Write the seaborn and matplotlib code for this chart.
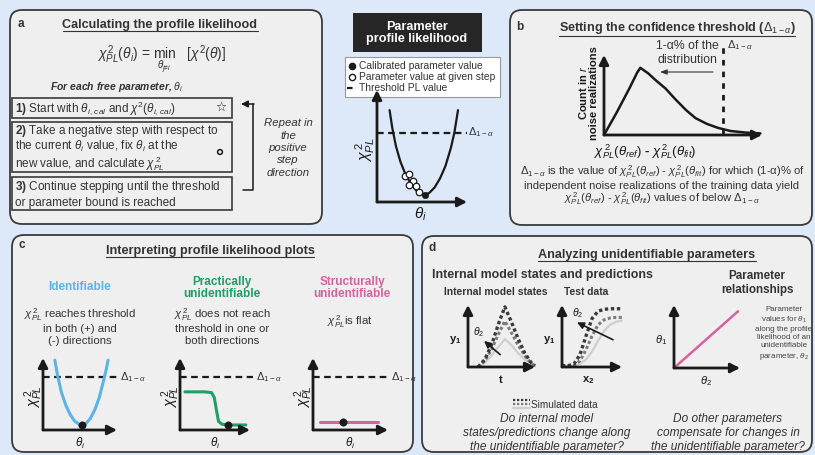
import numpy as np
import pandas as pd
import seaborn as sns
import matplotlib.pyplot as plt
from matplotlib.patches import FancyBboxPatch, Rectangle, Circle

sns.set_style("white")
plt.rcParams['font.family'] = ['Liberation Sans', 'DejaVu Sans']
plt.rcParams['mathtext.fontset'] = 'custom'
plt.rcParams['mathtext.rm'] = 'Liberation Sans'
plt.rcParams['mathtext.it'] = 'Liberation Sans:italic'
plt.rcParams['mathtext.bf'] = 'Liberation Sans:bold'

W, H = 815, 455
BG = '#dde9f8'
PANEL = '#efefef'
INK = '#1a1a1a'
TXT = '#333333'
BLUE, GREEN, PINK = '#5cb3e4', '#1f9e68', '#d6639e'

# ---- data (axes scaled 0..1) ----
# centre: parameter profile likelihood
pl_theta = [0.14, 0.17, 0.21, 0.26, 0.32, 0.38, 0.44, 0.50, 0.53, 0.58, 0.64, 0.70, 0.76, 0.82, 0.86, 0.90]
pl_chi = [0.82, 0.66, 0.50, 0.36, 0.24, 0.16, 0.10, 0.07, 0.06, 0.08, 0.13, 0.21, 0.32, 0.48, 0.62, 0.82]
pl_cal_theta, pl_cal_chi = [0.53], [0.06]
pl_step_theta = [0.31, 0.36, 0.40, 0.36, 0.43, 0.47]
pl_step_chi = [0.23, 0.25, 0.19, 0.15, 0.14, 0.09]
pl_threshold = 0.62

# b: distribution of chi2 differences
dist_x = [0.0, 0.08, 0.16, 0.21, 0.23, 0.28, 0.33, 0.39, 0.45, 0.52, 0.58, 0.65, 0.72, 0.80, 0.90, 0.99]
dist_y = [0.0, 0.28, 0.58, 0.78, 0.84, 0.77, 0.68, 0.58, 0.45, 0.31, 0.21, 0.14, 0.09, 0.05, 0.03, 0.02]
dist_cut = 0.75

# c: three kinds of profile
c_threshold = 0.74
ident_theta = [0.16, 0.20, 0.25, 0.31, 0.37, 0.43, 0.49, 0.53, 0.58, 0.64, 0.70, 0.76, 0.81, 0.85, 0.88]
ident_chi = [0.97, 0.74, 0.52, 0.34, 0.21, 0.12, 0.08, 0.07, 0.09, 0.16, 0.28, 0.45, 0.65, 0.82, 0.97]
ident_best = ([0.53], [0.07])
prac_theta = [0.07, 0.20, 0.35, 0.45, 0.49, 0.52, 0.55, 0.60, 0.70, 0.85, 0.94]
prac_chi = [0.53, 0.53, 0.53, 0.52, 0.45, 0.28, 0.12, 0.08, 0.07, 0.07, 0.07]
prac_best = ([0.69], [0.07])
struct_theta = [0.09, 0.87]
struct_chi = [0.11, 0.11]
struct_best = ([0.40], [0.11])

# d: internal states / test data / parameter relationship
states_t = [0.15, 0.25, 0.35, 0.45, 0.55, 0.65, 0.75, 0.85, 0.95, 1.0]
states_dark = [0.0, 0.12, 0.35, 0.68, 0.97, 0.72, 0.45, 0.22, 0.06, 0.02]
states_mid = [0.0, 0.10, 0.28, 0.52, 0.74, 0.55, 0.35, 0.18, 0.05, 0.02]
states_light = [0.0, 0.07, 0.18, 0.32, 0.45, 0.35, 0.22, 0.12, 0.04, 0.01]
test_x = [0.0, 0.1, 0.2, 0.3, 0.4, 0.5, 0.6, 0.7, 0.8, 0.9, 1.0]
test_dark = [0.02, 0.02, 0.05, 0.20, 0.50, 0.78, 0.90, 0.93, 0.94, 0.94, 0.94]
test_mid = [0.02, 0.02, 0.03, 0.10, 0.28, 0.50, 0.68, 0.76, 0.79, 0.80, 0.80]
test_light = [0.01, 0.01, 0.02, 0.05, 0.12, 0.25, 0.42, 0.58, 0.68, 0.73, 0.75]
rel_theta2 = [0.0, 0.97]
rel_theta1 = [0.0, 0.90]

fig = plt.figure(figsize=(W / 100, H / 100), dpi=100, facecolor=BG)
base = fig.add_axes([0, 0, 1, 1])
base.set_xlim(0, W)
base.set_ylim(H, 0)
base.axis('off')

titles = []


def panel(x0, y0, x1, y1):
    base.add_patch(FancyBboxPatch((x0, y0), x1 - x0, y1 - y0,
                                  boxstyle='round,pad=0,rounding_size=12',
                                  fc=PANEL, ec='#3a3a3a', lw=1.3))


def txt(x, y, s, size=7.2, **kw):
    kw.setdefault('ha', 'center')
    kw.setdefault('va', 'center')
    kw.setdefault('color', TXT)
    return base.text(x, y, s, fontsize=size, **kw)


def title(x, y, s):
    titles.append(txt(x, y, s, 9.1, fontweight='bold'))


def inset(x0, y0, w, h):
    # (x0, y0) = axis origin in pixels, w/h = arrow lengths
    ax = fig.add_axes([x0 / W, 1 - y0 / H, w / W, h / H])
    ax.set_xlim(0, 1)
    ax.set_ylim(0, 1)
    ax.axis('off')
    for tip in [(1, 0), (0, 1)]:
        an = ax.annotate('', xy=tip, xytext=(0, 0), xycoords='axes fraction',
                         arrowprops=dict(arrowstyle='-|>,head_length=0.55,head_width=0.28',
                                         lw=2, color=INK, shrinkA=0, shrinkB=0),
                         annotation_clip=False)
        an.arrow_patch.set_clip_on(False)
    return ax


DELTA = r'$\Delta_{1-\alpha}$'
CHI = r'$\chi_{PL}^{\,2}$'
DIFF = r'$\chi_{PL}^{\,2}(\theta_{ref})$ - $\chi_{PL}^{\,2}(\theta_{fit})$'

# ---------------- panel a ----------------
panel(10, 10, 322, 224)
txt(21, 24, 'a', 8.5, fontweight='bold')
title(160, 25, 'Calculating the profile likelihood')
txt(162, 60, r'$\chi_{PL}^{\,2}(\theta_i)$ = $\min_{\theta_{j\neq i}}$   $[\chi^2(\theta)]$', 10, va='baseline')
txt(50, 87, r'For each free parameter, $\theta_i$', 7.5, ha='left', fontweight='bold', style='italic')
for y0, y1 in [(98, 118), (122, 172), (177, 210)]:
    base.add_patch(Rectangle((12, y0), 220, y1 - y0, fc=PANEL, ec='#3a3a3a', lw=1.2))
txt(15, 108, r'$\mathbf{1)}$ Start with $\theta_{i,\,cal}$ and $\chi^2(\theta_{i,\,cal})$', 8.5, ha='left')
txt(221, 107, '\u2606', 9, family='DejaVu Sans', color=INK)
txt(15, 148, r'$\mathbf{2)}$ Take a negative step with respect to' + '\n'
    + r'the current $\theta_i$ value, fix $\theta_i$ at the' + '\n'
    + r'new value, and calculate $\chi_{PL}^{\,2}$', 8.5, ha='left', linespacing=1.0)
base.add_patch(Circle((220, 152), 2.4, fc='none', ec=INK, lw=1.1))
txt(15, 194, r'$\mathbf{3)}$ Continue stepping until the threshold' + '\n'
    + 'or parameter bound is reached', 8.5, ha='left', linespacing=1.15)
base.plot([253, 253, 243], [104, 190, 190], color=INK, lw=1.1)
base.annotate('', xy=(241, 104), xytext=(254, 104),
              arrowprops=dict(arrowstyle='-|>,head_length=0.4,head_width=0.2', lw=1.1, color=INK,
                              shrinkA=0, shrinkB=0))
txt(288, 148, 'Repeat in\nthe\npositive\nstep\ndirection', 8.2, style='italic', linespacing=1.3)

# ---------------- centre ----------------
base.add_patch(Rectangle((353, 13), 129, 39, fc='#262626', ec='none'))
txt(417, 33, 'Parameter\nprofile likelihood', 9.1, color='white', fontweight='bold', linespacing=1.1)
base.add_patch(Rectangle((345, 57), 155, 40, fc='white', ec='#999999', lw=0.8))
leg_items = [('full', 'Calibrated parameter value'),
             ('open', 'Parameter value at given step'),
             ('dash', 'Threshold PL value')]
for i, (kind, lab) in enumerate(leg_items):
    yy = 66 + 11 * i
    if kind == 'dash':
        base.plot([347, 356], [yy, yy], ls=(0, (2.5, 1.5)), color=INK, lw=1.6)
    else:
        base.plot([352], [yy], marker='o', ls='', mfc=INK if kind == 'full' else 'white',
                  mec=INK, ms=4.5, mew=1)
    txt(359, yy, lab, 7.4, ha='left')

ax = inset(377, 202, 90, 112)
ax.axhline(pl_threshold, 0, 1, color=INK, lw=1.6, ls=(0, (3, 2)), clip_on=False)
sns.lineplot(x=pl_theta, y=pl_chi, ax=ax, color=INK, lw=1.6, sort=False, clip_on=False)
sns.scatterplot(x=pl_step_theta, y=pl_step_chi, ax=ax, s=22, facecolor='white', edgecolor=INK,
                linewidth=0.9, zorder=5, clip_on=False)
sns.scatterplot(x=pl_cal_theta, y=pl_cal_chi, ax=ax, s=22, color=INK, edgecolor=INK, zorder=6, clip_on=False)
txt(365, 150, CHI, 11.5, rotation=90, color=INK)
txt(420, 214, r'$\theta_i$', 11, color=INK)
txt(468, 132, DELTA, 8, ha='left')

# ---------------- panel b ----------------
panel(510, 10, 812, 225)
txt(520, 27, 'b', 8.5, fontweight='bold')
title(677, 28, r'Setting the confidence threshold ($\Delta_{1-\alpha}$)')
ax = inset(604, 135, 158, 80)
sns.lineplot(x=dist_x, y=dist_y, ax=ax, color=INK, lw=1.8, sort=False, clip_on=False)
ax.vlines(dist_cut, 0, 1.12, color=INK, lw=2, ls=(0, (2, 2.2)), clip_on=False)
txt(588, 93, r'Count in $r$' + '\nnoise realizations', 8, rotation=90, fontweight='bold',
    linespacing=1.0, color=INK)
txt(645, 152, DIFF, 9.5, fontweight='bold', color=INK)
txt(687, 53, '1-\u03b1% of the\ndistribution', 8.8, linespacing=1.2)
base.annotate('', xy=(660, 72), xytext=(713, 72),
              arrowprops=dict(arrowstyle='-|>,head_length=0.4,head_width=0.15', lw=0.8, color=TXT,
                              shrinkA=0, shrinkB=0))
txt(727, 45, DELTA, 8, ha='left')
txt(662, 172, DELTA + ' is the value of ' + DIFF + ' for which (1-\u03b1)% of', 8.1)
txt(662, 186, 'independent noise realizations of the training data yield', 8.1)
txt(662, 199, DIFF + ' values of below ' + DELTA, 8.1)

# ---------------- panel c ----------------
panel(12, 235, 413, 452)
txt(22, 245, 'c', 8.5, fontweight='bold')
title(210, 251, 'Interpreting profile likelihood plots')
txt(80, 287, 'Identifiable', 8.5, color=BLUE, fontweight='bold')
txt(222, 288, 'Practically\nunidentifiable', 8.5, color=GREEN, fontweight='bold', linespacing=1.1)
txt(352, 288, 'Structurally\nunidentifiable', 8.5, color=PINK, fontweight='bold', linespacing=1.1)
txt(80, 326, CHI + ' reaches threshold\nin both (+) and\n(-) directions', 8.2, linespacing=1.15)
txt(222, 326, CHI + ' does not reach\nthreshold in one or\nboth directions', 8.2, linespacing=1.15)
txt(350, 322, CHI + 'is flat', 8.2)

c_plots = [
    (43, 74, ident_theta, ident_chi, ident_best, BLUE, 1.0),
    (180, 70, prac_theta, prac_chi, prac_best, GREEN, 1.04),
    (313, 75, struct_theta, struct_chi, struct_best, PINK, 1.0),
]
for x0, w, th, ch, best, col, dash_end in c_plots:
    ax = inset(x0, 430, w, 72)
    ax.hlines(c_threshold, 0, dash_end, color=INK, lw=1.6, ls=(0, (3, 2)), clip_on=False)
    sns.lineplot(x=th, y=ch, ax=ax, color=col, lw=2.2, sort=False, clip_on=False)
    sns.scatterplot(x=best[0], y=best[1], ax=ax, s=28, color=INK, edgecolor=INK, zorder=5, clip_on=False)
    txt(x0 - 9, 397, CHI, 10.5, rotation=90, color=INK)
    txt(x0 + w / 2, 443, r'$\theta_i$', 8.5, color=INK)
    txt(x0 + w * dash_end + 3, 377, DELTA, 8, ha='left')

# ---------------- panel d ----------------
panel(422, 236, 812, 452)
txt(432, 248, 'd', 8.5, fontweight='bold')
title(647, 255, 'Analyzing unidentifiable parameters')
txt(542, 275, 'Internal model states and predictions', 8.9, fontweight='bold')
txt(757, 283, 'Parameter\nrelationships', 8.4, fontweight='bold', linespacing=1.2)
txt(496, 292, 'Internal model states', 7.4, fontweight='bold')
txt(586, 292, 'Test data', 7.4, fontweight='bold')

dot = (0, (1, 0.8))
ax = inset(468, 367, 67, 62)
sns.lineplot(x=states_t, y=states_light, ax=ax, color='#cfcfcf', lw=1.6, sort=False, clip_on=False)
sns.lineplot(x=states_t, y=states_mid, ax=ax, color='#7a7a7a', lw=2.2, ls=dot, sort=False, clip_on=False)
sns.lineplot(x=states_t, y=states_dark, ax=ax, color='#3a3a3a', lw=2.4, ls=dot, sort=False, clip_on=False)
ax.annotate('', xy=(0.24, 0.42), xytext=(0.48, 0.2), xycoords='axes fraction',
            arrowprops=dict(arrowstyle='-|>,head_length=0.4,head_width=0.2', lw=1.2, color=INK,
                            shrinkA=0, shrinkB=0))
txt(455, 340, r'$\mathbf{y_1}$', 8, color=INK)
txt(501, 379, r'$\mathbf{t}$', 8, color=INK)
txt(479, 332, r'$\theta_2$', 7.5, color=INK)

ax = inset(562, 367, 60, 62)
sns.lineplot(x=test_x, y=test_light, ax=ax, color='#cfcfcf', lw=1.6, sort=False, clip_on=False)
sns.lineplot(x=test_x, y=test_mid, ax=ax, color='#7a7a7a', lw=2.2, ls=dot, sort=False, clip_on=False)
sns.lineplot(x=test_x, y=test_dark, ax=ax, color='#3a3a3a', lw=2.4, ls=dot, sort=False, clip_on=False)
ax.annotate('', xy=(0.25, 0.72), xytext=(0.85, 0.44), xycoords='axes fraction',
            arrowprops=dict(arrowstyle='-|>,head_length=0.4,head_width=0.2', lw=1.2, color=INK,
                            shrinkA=0, shrinkB=0))
txt(549, 340, r'$\mathbf{y_1}$', 8, color=INK)
txt(588, 380, r'$\mathbf{x_2}$', 8, color=INK)
txt(578, 313, r'$\theta_2$', 7.5, color=INK)

for yy, c, ls in [(400, '#3a3a3a', dot), (404, '#7a7a7a', dot), (408, '#cfcfcf', '-')]:
    base.plot([513, 530], [yy, yy], color=c, lw=1.6, ls=ls)
txt(531, 405, 'Simulated data', 7.2, ha='left')

ax = inset(674, 368, 66, 63)
sns.lineplot(x=rel_theta2, y=rel_theta1, ax=ax, color=PINK, lw=1.8, sort=False, clip_on=False)
txt(661, 340, r'$\theta_1$', 8, color=INK)
txt(706, 381, r'$\theta_2$', 8, color=INK)
txt(784, 334, 'Parameter\n' + r'values for $\theta_1$' + '\nalong the profile\nlikelihood of an\nunidentifiable\n'
    + r'parameter, $\theta_2$', 5.8, color='#444444', linespacing=1.25)

txt(547, 433, 'Do internal model\nstates/predictions change along\nthe unidentifiable parameter?', 8.6,
    style='italic', linespacing=1.18)
txt(728, 433, 'Do other parameters\ncompensate for changes in\nthe unidentifiable parameter?', 8.6,
    style='italic', linespacing=1.18)

# underline the panel titles
fig.canvas.draw()
inv = base.transData.inverted()
for t in titles:
    bb = t.get_window_extent()
    (ux0, uy), (ux1, _) = inv.transform([(bb.x0, bb.y0), (bb.x1, bb.y0)])
    base.plot([ux0, ux1], [uy, uy], color=TXT, lw=0.8)

fig.savefig('out.png', dpi=100, facecolor=BG)
